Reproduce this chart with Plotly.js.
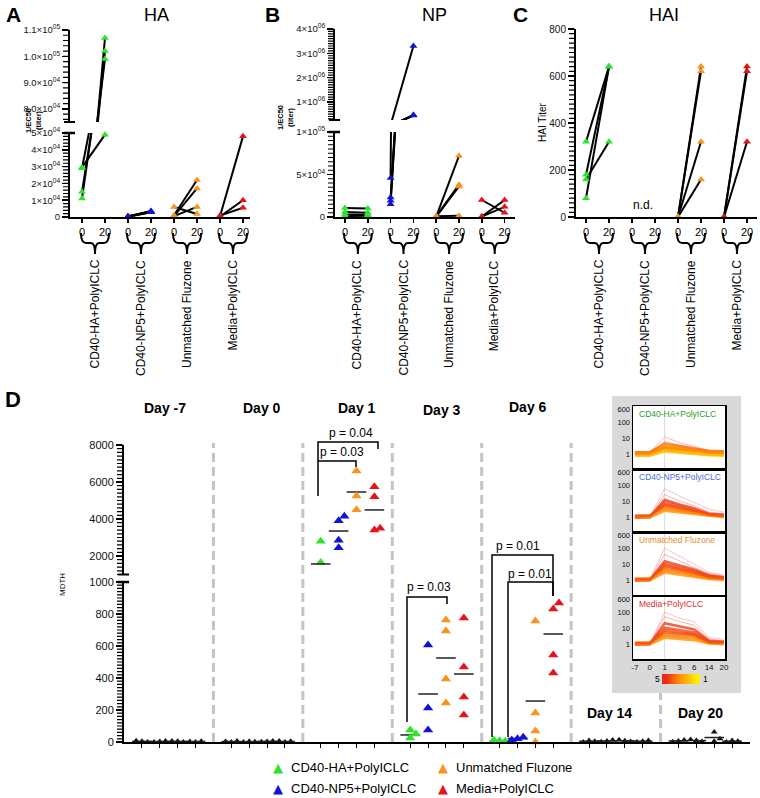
<!DOCTYPE html>
<html><head><meta charset="utf-8">
<script src="https://cdn.plot.ly/plotly-3.0.1.min.js"></script>
<style>html,body{margin:0;padding:0;background:#fff}#chart{width:760px;height:798px}</style>
</head><body><div id="chart"></div>
<script>
// ================= DATA =================
const groups = ['CD40-HA+PolyICLC','CD40-NP5+PolyICLC','Unmatched Fluzone','Media+PolyICLC'];
const groupColors = ['#2ee32e','#1212d4','#f7931e','#e5131b'];
const titerDays = ['0','20'];

// Panel A: HA 1/EC50 titer, each animal day 0 -> day 20
const haDay0  = [[11000,15000,29000,29500],[300,200,500,100],[1000,500,6000,500],[500,300,800]];
const haDay20 = [[107000,102000,99000,49000],[3600,3000,3300,2800],[22000,17000,1800,6000],[48000,10000,5500]];
// Panel B: NP 1/EC50 titer
const npDay0  = [[10500,6000,3000,1000],[46000,23000,19000,15000],[500,800,300,1000],[20000,500,500]];
const npDay20 = [[10000,5000,2500,1500],[3300000,450000,440000,460000],[72000,38000,36000,1500],[5000,20000,12000]];
// Panel C: HAI titer (CD40-NP5 group: n.d.)
const haiDay0  = [[320,180,160,80],[],[0,0,0,0],[0,0,0]];
const haiDay20 = [[640,640,320,640],[],[640,620,320,160],[640,620,320]];

// Panel D: MDTH per day, per group
const dayLabels = ['Day -7','Day 0','Day 1','Day 3','Day 6','Day 14','Day 20'];
const dayColored = [false,false,true,true,true,false,false];
const mdthDayM7 = [[5,0,8],[3,6,0],[4,0,7],[0,5,3]];
const mdthDay0  = [[0,6,3],[5,2,0],[3,7,1],[0,4,6]];
const mdthDay1  = [[2800,1650],[3900,4150,2850,2450],[6600,5250,4500],[5750,5200,3400,3500]];
const mdthDay3  = [[75,50,25],[606,212,75],[762,694,394,244],[775,469,281,169]];
const mdthDay6  = [[8,4,12],[20,30,12],[756,181,69,0],[831,869,544,431]];
const mdthDay14 = [[10,4,0],[6,12,2],[8,3,14],[5,10,0]];
const mdthDay20 = [[6,12,2],[9,3,15],[62,20,5],[10,4,0]];
const mdthMean  = [[4,3,4,3],[3,2,4,3],[1570,3350,5460,4490],[44,300,525,425],[8,22,256,675],[5,7,8,5],[7,9,28,5]];
const pLabelsDay1 = ['p = 0.03','p = 0.04'];
const pLabelsDay3 = ['p = 0.03'];
const pLabelsDay6 = ['p = 0.01','p = 0.01'];

// Inset: expression profiles (log scale), days as ordinal positions
const insetDays = ['-7','0','1','3','6','14','20'];
const insetTicks = [1,10,100,600];
const insetHA = [[1.2,1.2,3.0,2.2,1.8,1.4,1.3],[1.0,1.0,2.2,1.7,1.4,1.1,1.0],[0.9,0.9,1.8,1.4,1.2,1.0,0.9],[1.3,1.3,4.5,3.0,2.2,1.6,1.5],
  [1.1,1.1,6.0,3.5,2.5,1.5,1.3],[1.2,1.2,12,5,3,1.6,1.4],[0.8,0.8,1.5,1.2,1.0,0.85,0.8],[1.0,1.05,2.6,2.0,1.6,1.3,1.2]];
const insetNP5 = [[1.1,1.1,5,3,2,1.4,1.2],[1.0,1.0,8,4.5,2.8,1.5,1.3],[1.2,1.2,3.5,2.5,1.8,1.3,1.1],[0.9,1.0,12,6,3.5,1.6,1.4],
  [1.1,1.1,25,10,5,2,1.6],[1.0,1.0,60,20,8,3,2],[1.0,1.0,2.5,2,1.5,1.2,1.0],[1.1,1.2,6,4,2.5,1.4,1.2]];
const insetFluzone = [[1.1,1.1,6,4,2.5,1.5,1.3],[1.0,1.0,10,6,3.5,1.7,1.4],[1.2,1.2,4,3,2,1.3,1.2],[0.9,1.0,15,8,4.5,2,1.5],
  [1.1,1.1,40,15,6,2.5,1.8],[1.0,1.0,100,30,10,3,2],[1.0,1.0,3,2.2,1.6,1.2,1.0],[1.1,1.1,8,5,3,1.5,1.3]];
const insetMedia = [[1.1,1.1,5,4,3.5,1.3,1.2],[1.0,1.0,10,7,5,1.4,1.3],[1.2,1.2,3.5,3,2.5,1.2,1.1],[0.9,1.0,20,12,8,1.6,1.4],
  [1.1,1.1,50,25,15,2,1.6],[1.0,1.0,100,40,25,2.5,2],[1.0,1.0,2.5,2.2,1.8,1.1,1.0],[1.1,1.1,7,5,4,1.3,1.2]];
const insetLabelColors = ['#2a9a2a','#4a6be0','#ee8a2a','#e02a2a'];
const colorbarValues = [5,4,3,2,1];

// ================= HELPERS =================
const W=760,H=798;
const X = p=>p/W, Y = p=>1-p/H;
const FONT = 'Liberation Sans, Arial, Helvetica, sans-serif';
const traces=[], shapes=[], ann=[];
const layout = {width:W,height:H,margin:{l:0,r:0,t:0,b:0},paper_bgcolor:'#fff',plot_bgcolor:'rgba(0,0,0,0)',
  showlegend:false,font:{family:FONT,color:'#000'},hovermode:false};
const baseAx = {showgrid:false,zeroline:false,showline:true,linecolor:'#000',linewidth:2,ticks:'outside',tickcolor:'#000',
  ticklen:6,tickwidth:1.5,fixedrange:true,tickfont:{size:9.5,color:'#111',family:FONT}};
function xAx(L,R,t0,step,anchor,extra){return Object.assign({},baseAx,{domain:[X(L),X(R)],range:[(L-t0)/step,(R-t0)/step],anchor},extra||{});}
function yAx(top,bot,vTop,vBot,anchor,extra){return Object.assign({},baseAx,{domain:[Y(bot),Y(top)],range:[vBot,vTop],anchor},extra||{});}
function sup(m,e){return m+'×10<sup>'+e+'</sup>';}
function text(px,py,t,size,opts){ann.push(Object.assign({xref:'paper',yref:'paper',x:X(px),y:Y(py),text:t,showarrow:false,
  font:{size:size,family:FONT,color:'#000'},xanchor:'center',yanchor:'middle'},opts||{}));}
function seg(x0,y0,x1,y1,w,col){shapes.push({type:'line',xref:'paper',yref:'paper',x0:X(x0),y0:Y(y0),x1:X(x1),y1:Y(y1),line:{color:col||'#000',width:w||2}});}
function poly(pts,w){shapes.push({type:'path',xref:'paper',yref:'paper',path:pts.map((p,i)=>(i?'L':'M')+X(p[0])+','+Y(p[1])).join(' '),line:{color:'#000',width:w||1.5}});}
function brace(L,R){const C=(L+R)/2, t=233, m=243, b=254;
  const q=(a,b2)=>X(a)+','+Y(b2);
  shapes.push({type:'path',xref:'paper',yref:'paper',line:{color:'#000',width:2},
   path:`M ${q(L,t)} Q ${q(L,m)} ${q(L+5,m)} L ${q(C-4,m)} Q ${q(C,m)} ${q(C,b)} Q ${q(C,m)} ${q(C+4,m)} L ${q(R-5,m)} Q ${q(R,m)} ${q(R,t)}`});}
// dense minor ticks on a y axis: one path, placed with the axis' own scale (domain px + range)
function minorTicks(spineX,top,bot,vTop,vBot,step){
  const n0=Math.ceil(vBot/step-1e-9), n1=Math.floor(vTop/step+1e-9); let p='';
  for(let n=n0;n<=n1;n++){const v=n*step, py=bot-(v-vBot)/(vTop-vBot)*(bot-top);
    p+=' M'+X(spineX-6)+','+Y(py)+' L'+X(spineX)+','+Y(py);}
  shapes.push({type:'path',xref:'paper',yref:'paper',path:p.trim(),line:{color:'#000',width:1.2}});
}

// paired titer panels
function pairPanel(d0,d20,xa,subplots){
  d0.forEach((vals,g)=>{
    if(!vals.length) return;
    const lx=[],ly=[];
    vals.forEach((v,i)=>{lx.push(2*g,2*g+1,null);ly.push(v,d20[g][i],null);});
    subplots.forEach(sp=>traces.push({type:'scatter',mode:'lines',x:lx,y:ly,xaxis:xa,yaxis:sp.ya,line:{color:'#000',width:2},hoverinfo:'skip'}));
  });
  d0.forEach((vals,g)=>{
    if(!vals.length) return;
    subplots.forEach(sp=>{
      const mx=[],my=[];
      vals.forEach((v,i)=>{[[2*g,v],[2*g+1,d20[g][i]]].forEach(([x,y])=>{if(y>=sp.lo&&y<=sp.hi){mx.push(x);my.push(y);}});});
      traces.push({type:'scatter',mode:'markers',x:mx,y:my,xaxis:xa,yaxis:sp.ya,cliponaxis:false,
        marker:{symbol:'triangle-up',size:7,color:groupColors[g]},hoverinfo:'skip'});
    });
  });
}
const tick8 = [0,1,2,3,4,5,6,7], tickTxt8 = [0,1,2,3,4,5,6,7].map(k=>titerDays[k%2]);
const xTickFont = {size:11,color:'#000',family:FONT};
function catLabels(t0,step){groups.forEach((gname,g)=>{const a=t0+2*g*step, L=a-1, R=a+step+4; brace(L,R);
  text((L+R)/2,258,gname,12,{textangle:-90,yanchor:'top'});});}

// ================= PANEL A =================
layout.xaxis  = xAx(70,250,82,23,'y',{tickmode:'array',tickvals:tick8,ticktext:tickTxt8,ticklen:4,tickfont:xTickFont});
layout.yaxis  = yAx(133,217,50000,0,'x',{tickmode:'array',tickvals:[0,10000,20000,30000,40000,50000],
  ticktext:['0',sup('1','04'),sup('2','04'),sup('3','04'),sup('4','04'),sup('5','04')]});
layout.yaxis2 = yAx(30,122,110000,75000,'x',{tickmode:'array',tickvals:[80000,90000,100000,110000],
  ticktext:[sup('8.0','04'),sup('9.0','04'),sup('1.0','05'),sup('1.1','05')]});
pairPanel(haDay0,haDay20,'x',[{ya:'y',lo:0,hi:50000},{ya:'y2',lo:75000,hi:110000}]);
minorTicks(69,133,217,50000,0,2000); minorTicks(69,30,122,110000,75000,2000);
seg(64,122,75,122,2); seg(64,133,75,133,2.5);
catLabels(82,23);
text(14,14,'<b>A</b>',21); text(156,15,'HA',18);
text(34,121,'<b>1/EC50<br>(titer)</b>',7.5,{textangle:-90});

// ================= PANEL B =================
layout.xaxis2 = xAx(335,515,345,22.8,'y3',{tickmode:'array',tickvals:tick8,ticktext:tickTxt8,ticklen:4,tickfont:xTickFont});
layout.yaxis3 = yAx(132,217,100000,0,'x2',{tickmode:'array',tickvals:[0,50000,100000],
  ticktext:['0',sup('5','04'),sup('1','05')]});
layout.yaxis4 = yAx(29,120,4000000,255000,'x2',{tickmode:'array',tickvals:[1000000,2000000,3000000,4000000],
  ticktext:[sup('1','06'),sup('2','06'),sup('3','06'),sup('4','06')]});
pairPanel(npDay0,npDay20,'x2',[{ya:'y3',lo:0,hi:100000},{ya:'y4',lo:255000,hi:4000000}]);
minorTicks(334,132,217,100000,0,5000); minorTicks(334,29,120,4000000,255000,100000);
seg(329,120,340,120,2); seg(329,132,340,132,2.5);
catLabels(345,22.8);
text(272,14,'<b>B</b>',21); text(434,15,'NP',18);
text(285,118,'<b>1/EC50<br>(titer)</b>',7.5,{textangle:-90});

// ================= PANEL C =================
layout.xaxis3 = xAx(576,757,586,23,'y5',{tickmode:'array',tickvals:tick8,ticktext:tickTxt8,ticklen:4,tickfont:xTickFont});
layout.yaxis5 = yAx(29,217,800,0,'x3',{tickmode:'array',tickvals:[0,200,400,600,800],tickfont:{size:10,color:'#111',family:FONT}});
pairPanel(haiDay0,haiDay20,'x3',[{ya:'y5',lo:0,hi:800}]);
minorTicks(575,29,217,800,0,20);
catLabels(586,23);
text(520,14,'<b>C</b>',21); text(664,15,'HAI',18);
text(543,122,'HAI Titer',10,{textangle:-90});
text(643,205,'n.d.',12);

// ================= PANEL D =================
const mdthByDay = [mdthDayM7,mdthDay0,mdthDay1,mdthDay3,mdthDay6,mdthDay14,mdthDay20];
layout.xaxis4 = Object.assign({},baseAx,{domain:[X(124),X(750)],range:[0,35],anchor:'y6',tickmode:'array',
  tickvals:[].concat(...dayLabels.map((d,i)=>[1,2,3,4].map(g=>i*5+g))),showticklabels:false,ticklen:4,tickwidth:1});
layout.yaxis6 = yAx(582,742,1000,0,'x4',{tickmode:'array',tickvals:[0,200,400,600,800,1000],tickfont:{size:11,color:'#111',family:FONT}});
layout.yaxis7 = yAx(445,574.5,8000,1000,'x4',{tickmode:'array',tickvals:[2000,4000,6000,8000],tickfont:{size:11,color:'#111',family:FONT}});
minorTicks(123,582,742,1000,0,20); minorTicks(123,445,574.5,8000,1000,200);
seg(118,574.5,129,574.5,2); seg(118,582,129,582,2.5);

// section separators
[5,10,15,20,25,30].forEach((b,i)=>shapes.push({type:'line',layer:'below',xref:'x4',yref:'paper',x0:b,x1:b,
  y0:Y(742),y1:Y(i===5?693:443),line:{color:'#c4c4c4',width:3,dash:'9px,5px'}}));
const pyOf = v => v>1000 ? 574.5-(v-1000)*18.5/1000 : 742-v*0.16;
const pts = {};
function addPt(key,x,y){(pts[key]=pts[key]||{x:[],y:[]}).x.push(x);pts[key].y.push(y);}
mdthByDay.forEach((day,d)=>{
  day.forEach((vals,g)=>{
    const base=d*5+g+1, placed=[];
    const col = dayColored[d]?groupColors[g]:'#111';
    vals.forEach(v=>{
      const py=pyOf(v); let xo=0;
      for(const off of [0,0.32,-0.32,0.64,-0.64]){ if(!placed.some(p=>p.off===off&&Math.abs(p.py-py)<7)){xo=off;break;} }
      placed.push({off:xo,py});
      addPt(col+'|'+(v>1000?'u':'l'),base+xo,v);
    });
    const m=mdthMean[d][g];
    addPt('mean|'+(m>1000?'u':'l'),base,m);
  });
});
Object.keys(pts).forEach(k=>{
  const [col,sg]=k.split('|'); const ya = sg==='u'?'y7':'y6';
  if(col==='mean'){
    traces.push({type:'scatter',mode:'markers',x:pts[k].x,y:pts[k].y,xaxis:'x4',yaxis:ya,cliponaxis:false,
      marker:{symbol:'line-ew',size:14,line:{width:1.5,color:'#222'}},hoverinfo:'skip'});
  } else {
    traces.push({type:'scatter',mode:'markers',x:pts[k].x,y:pts[k].y,xaxis:'x4',yaxis:ya,cliponaxis:false,
      marker:{symbol:'triangle-up',size:col==='#111'?6:9,color:col},hoverinfo:'skip'});
  }
});
// brackets
poly([[318,496],[318,461],[356,461],[356,467]]);
poly([[318,461],[318,442],[378,442],[378,449]]);
text(342,452,pLabelsDay1[0],12); text(351,433,pLabelsDay1[1],12);
poly([[407,722],[407,597],[447,597],[447,604]]);
text(429,587,pLabelsDay3[0],12);
poly([[492,737],[492,555],[553,555],[553,596]]);
poly([[508,737],[508,582],[553,582],[553,596]]);
text(518,546,pLabelsDay6[0],12); text(530,574,pLabelsDay6[1],12);
// day labels
const dayLabelPos = [[165,408],[262,408],[357,408],[442,410],[528,407],[609,713],[700,713]];
dayLabels.forEach((t,i)=>text(dayLabelPos[i][0],dayLabelPos[i][1],'<b>'+t+'</b>',14));
text(13,399,'<b>D</b>',22);
text(62,585,'MDTH',8,{textangle:-90});

// ================= INSET =================
shapes.push({type:'rect',layer:'below',xref:'paper',yref:'paper',x0:X(612),x1:X(741),y0:Y(693),y1:Y(396),fillcolor:'#d9d9d9',line:{width:0}});
const insetPanels = [insetHA,insetNP5,insetFluzone,insetMedia];
const insetTops = [406,469,532,596];
const insetColorsA = ['#ff8400','#ff9400','#ffaa00','#ff7200','#f8642a','#f07a7a','#ffbc00','#ff8a00'];
const insetColorsB = ['#f55a10','#f04818','#ff7a00','#ee4020','#f06a6a','#f38a8a','#ff9000','#f35014'];
const insetWidths = [3,3,3,2.5,1,1,3,2.5];
insetPanels.forEach((prof,i)=>{
  const xa='x'+(5+i), ya='y'+(8+i), top=insetTops[i], bot=top+63;
  shapes.push({type:'rect',layer:'below',xref:'paper',yref:'paper',x0:X(633),x1:X(725),y0:Y(bot),y1:Y(top),fillcolor:'#fff',line:{width:0}});
  shapes.push({type:'line',layer:'below',xref:xa,yref:ya+' domain',x0:2,x1:2,y0:0,y1:1,line:{color:'#dcdcdc',width:1}});
  layout['xaxis'+(5+i)] = {domain:[X(633),X(725)],range:[-0.13,6.07],anchor:ya,showgrid:false,zeroline:false,showline:true,mirror:true,
    linecolor:'#000',linewidth:1.5,ticks:'',fixedrange:true,tickmode:'array',tickvals:[0,1,2,3,4,5,6],ticktext:insetDays,
    showticklabels:i===3,tickfont:{size:8,color:'#111',family:FONT}};
  layout['yaxis'+(8+i)] = {domain:[Y(bot),Y(top)],type:'log',range:[-0.94,3.0],anchor:xa,showgrid:false,zeroline:false,showline:true,
    mirror:true,linecolor:'#000',linewidth:1.5,ticks:'',fixedrange:true,tickmode:'array',tickvals:insetTicks,
    ticktext:insetTicks.map(String),tickfont:{size:7.5,color:'#111',family:FONT}};
  const cols = i===0?insetColorsA:insetColorsB;
  prof.forEach((p,j)=>traces.push({type:'scatter',mode:'lines',x:[0,1,2,3,4,5,6],y:p,xaxis:xa,yaxis:ya,opacity:insetWidths[j]>2?0.8:0.5,
    line:{color:cols[j],width:insetWidths[j]},hoverinfo:'skip'}));
  text(637,top+8,groups[i],8.5,{xanchor:'left',font:{size:8.5,family:FONT,color:insetLabelColors[i]}});
});
// colour bar
layout.xaxis9 = {domain:[X(662),X(700)],range:[-0.5,4.5],anchor:'y12',visible:false,fixedrange:true};
layout.yaxis12 = {domain:[Y(684),Y(674)],range:[-0.5,0.5],anchor:'x9',visible:false,fixedrange:true};
traces.push({type:'heatmap',z:[colorbarValues],x:[0,1,2,3,4],y:[0],xaxis:'x9',yaxis:'y12',zmin:1,zmax:5,zsmooth:'best',
  colorscale:[[0,'#ffee00'],[0.5,'#ff9a00'],[1,'#ee2a12']],showscale:false,hoverinfo:'skip'});
text(657,679,String(colorbarValues[0]),8.5); text(705,679,String(colorbarValues[4]),8.5);

// ================= LEGEND =================
const legendPos = [[278,767],[278,788],[443,767],[443,788]];
groups.forEach((gname,g)=>{
  text(legendPos[g][0],legendPos[g][1],'▲',13,{font:{size:13,family:'DejaVu Sans',color:groupColors[g]}});
  text(legendPos[g][0]+11,legendPos[g][1],gname,13,{xanchor:'left'});
});

layout.shapes=shapes; layout.annotations=ann;
Plotly.newPlot('chart',traces,layout,{staticPlot:true,displayModeBar:false});
</script></body></html>
